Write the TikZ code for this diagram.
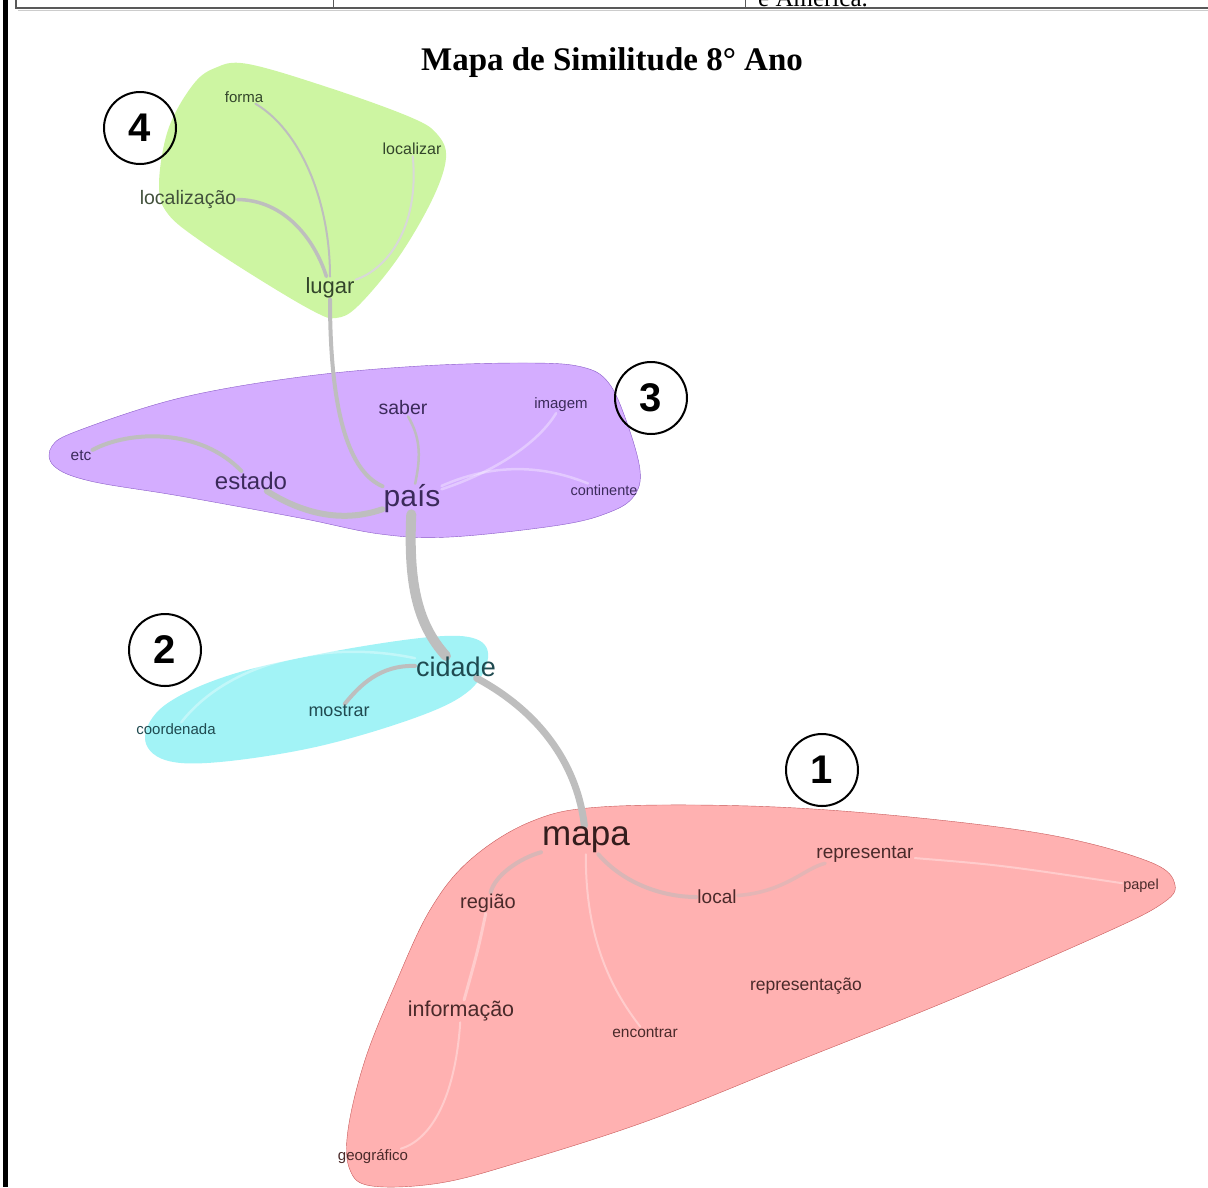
\documentclass[tikz,border=0pt]{standalone}
\usepackage{fontspec}
\setmainfont{Liberation Serif}
\newfontfamily\labelfont{Liberation Sans}
\usepackage{tikz}

\pgfdeclarelayer{blobs}
\pgfdeclarelayer{links}
\pgfsetlayers{blobs,links,main}

\definecolor{grfill}{HTML}{CDF5A2}
\definecolor{pufill}{HTML}{D4ADFF}
\definecolor{puline}{HTML}{8A5CC8}
\definecolor{cyfill}{HTML}{A2F3F6}
\definecolor{pkfill}{HTML}{FFB1B1}
\definecolor{pkline}{HTML}{C85A5A}
\definecolor{grtext}{HTML}{33452B}
\definecolor{putext}{HTML}{3B2A5A}
\definecolor{cytext}{HTML}{1F4A50}
\definecolor{pktext}{HTML}{4A2A2A}
\definecolor{linkgray}{HTML}{BEBEBE}
\definecolor{linkpk}{HTML}{D9B6B6}

\tikzset{
	term/.style={font=\labelfont\fontsize{#1}{#1}\selectfont, inner sep=1pt},
	link/.style={draw=linkgray, line cap=round, line width=#1},
	faint/.style={draw=white, draw opacity=.35, line cap=round, line width=#1},
	numcirc/.style={circle, draw, line width=2pt, minimum size=72pt, inner sep=0pt, font=\labelfont\bfseries\fontsize{40}{40}\selectfont}
}

\begin{document}
\begin{tikzpicture}[x=1pt,y=-1pt]
				\clip (0,0) rectangle (1208,1187);
				\draw[line width=5pt] (5,0) -- (5,1187);
				\draw[black!65, line width=1.5pt] (16,0) -- (16,8) -- (1208,8);
				\draw[black!20, line width=1pt] (18,10) -- (1208,10);
				\draw[black!65, line width=1pt] (333,0) -- (333,8);
				\draw[black!65, line width=1pt] (745,0) -- (745,8);
				\node[anchor=base west, font=\fontsize{25}{25}\selectfont, inner sep=0pt] (tabtext) at (758,6) {e América.};
				\node[font=\bfseries\fontsize{33}{33}\selectfont] (title) at (612,63) {Mapa de Similitude 8° Ano};

				\node[term=15, text=grtext] (forma) at (244,97) {forma};
				\node[term=16, text=grtext] (localizar) at (412,149) {localizar};
				\node[term=19.5, text=grtext!80!gray] (localizacao) at (188,199) {localização};
				\node[term=22, text=grtext] (lugar) at (330,288) {lugar};

				\node[term=19.5, text=putext] (saber) at (403,408) {saber};
				\node[term=15, text=putext] (imagem) at (561,405) {imagem};
				\node[term=15.5, text=putext] (etc) at (81,456) {etc};
				\node[term=24, text=putext] (estado) at (251,481) {estado};
				\node[term=30, text=putext] (pais) at (412,499) {país};
				\node[term=14.5, text=putext] (continente) at (604,490) {continente};

				\node[term=27, text=cytext] (cidade) at (456,667) {cidade};
				\node[term=18, text=cytext] (mostrar) at (339,711) {mostrar};
				\node[term=15, text=cytext] (coordenada) at (176,729) {coordenada};

				\node[term=35, text=pktext!70!black] (mapa) at (586,840) {mapa};
				\node[term=19, text=pktext] (representar) at (865,854) {representar};
				\node[term=14.5, text=pktext] (papel) at (1141,886) {papel};
				\node[term=20, text=pktext] (regiao) at (488,903) {região};
				\node[term=19, text=pktext] (local) at (717,897) {local};
				\node[term=17.5, text=pktext] (representacao) at (806,986) {representação};
				\node[term=21.5, text=pktext] (informacao) at (461,1011) {informação};
				\node[term=15.5, text=pktext] (encontrar) at (645,1033) {encontrar};
				\node[term=15, text=pktext] (geografico) at (373,1157) {geográfico};

				\node[numcirc] (c4) at (140,128) {4};
				\node[numcirc] (c3) at (651,398) {3};
				\node[numcirc] (c2) at (165,650) {2};
				\node[numcirc] (c1) at (822,770) {1};

				\begin{pgfonlayer}{links}
				\draw[link=10] (pais) .. controls (408,585) and (418,625) .. (cidade);
				\draw[link=7] (cidade) .. controls (545,715) and (578,770) .. (mapa);
				\draw[link=4] (lugar) .. controls (330,400) and (345,470) .. (pais);
				\draw[link=6] (pais) .. controls (340,524) and (300,512) .. (estado);
				\draw[link=4] (estado) .. controls (200,428) and (130,430) .. (etc);
				\draw[link=3.5] (localizacao) .. controls (285,200) and (315,240) .. (lugar);
				\draw[link=2] (forma) .. controls (300,130) and (330,200) .. (lugar);
				\draw[link=2, draw=linkgray!60] (localizar) .. controls (420,230) and (385,270) .. (lugar);
				\draw[link=2.5] (saber) .. controls (422,440) and (420,460) .. (pais);
				\draw[faint=2.5] (pais) .. controls (500,470) and (540,440) .. (imagem);
				\draw[faint=2.5] (pais) .. controls (500,460) and (550,468) .. (continente);
				\draw[link=4] (cidade) .. controls (380,665) and (360,685) .. (mostrar);
				\draw[faint=2.5] (cidade) .. controls (330,640) and (230,660) .. (coordenada);
				\draw[link=4, draw=linkpk] (mapa) .. controls (520,858) and (495,875) .. (regiao);
				\draw[link=4, draw=linkpk] (mapa) .. controls (625,885) and (665,897) .. (local);
				\draw[link=3.5, draw=linkpk!70!pkfill] (local) .. controls (785,892) and (805,868) .. (representar);
				\draw[faint=3] (regiao) .. controls (478,950) .. (informacao);
				\draw[faint=2] (informacao) .. controls (455,1100) and (430,1140) .. (geografico);
				\draw[faint=2] (representar) .. controls (1000,865) .. (papel);
				\draw[faint=2] (mapa) .. controls (585,950) and (620,1000) .. (encontrar);
				\end{pgfonlayer}

				\begin{pgfonlayer}{blobs}
				\fill[grfill] plot[smooth cycle, tension=0.6] coordinates {(215,68) (248,64) (330,88) (410,117) (437,134) (446,158) (432,200) (398,258) (358,306) (336,318) (315,312) (262,281) (202,242) (168,214) (159,185) (168,130) (192,86)};
				\draw[fill=pufill, draw=puline] plot[smooth cycle, tension=0.6] coordinates {(52,446) (80,430) (180,398) (300,377) (420,366) (530,363) (582,367) (608,382) (626,420) (640,470) (634,496) (610,512) (560,525) (450,537) (380,534) (300,518) (180,496) (90,481) (54,466)};
				\fill[cyfill] plot[smooth cycle, tension=0.6] coordinates {(145,738) (165,705) (230,675) (330,652) (430,637) (476,639) (488,658) (470,690) (420,716) (320,746) (220,762) (165,760)};
				\draw[fill=pkfill, draw=pkline] plot[smooth cycle, tension=0.6] coordinates {(600,807) (750,806) (900,816) (1050,835) (1150,862) (1175,885) (1160,905) (1100,935) (950,1000) (800,1060) (650,1120) (520,1162) (440,1183) (372,1186) (350,1170) (348,1130) (365,1060) (395,985) (430,910) (470,860) (530,822)};
				\end{pgfonlayer}
\end{tikzpicture}
\end{document}
